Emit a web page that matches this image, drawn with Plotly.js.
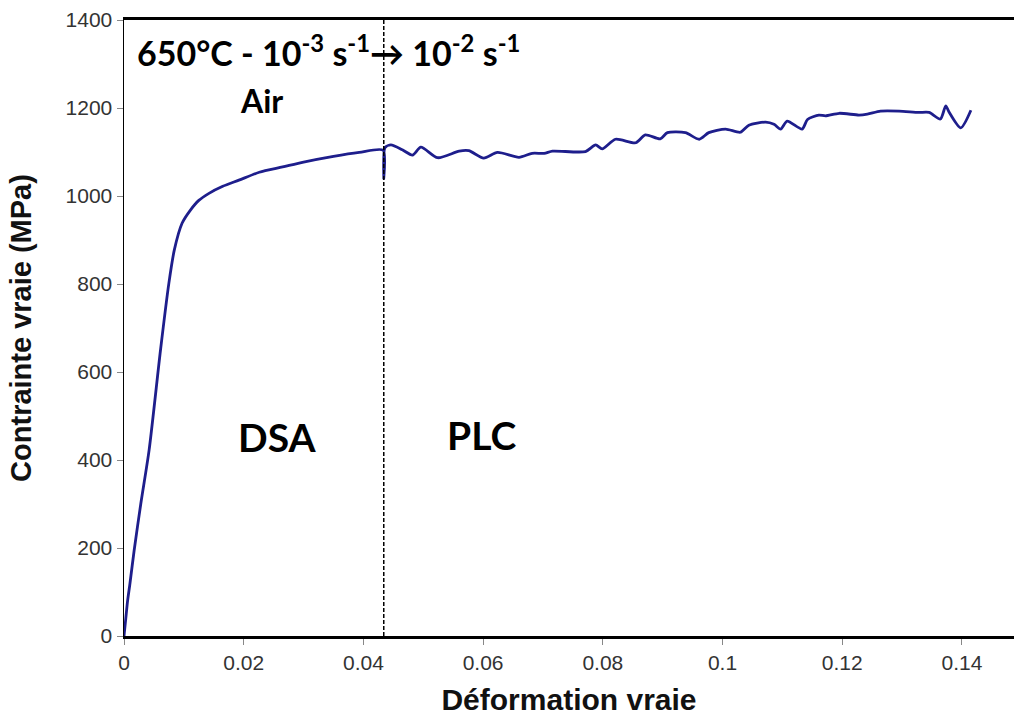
<!DOCTYPE html>
<html>
<head>
<meta charset="utf-8">
<script src="https://cdn.plot.ly/plotly-3.0.1.min.js"></script>
<style>html,body{margin:0;padding:0;background:#fff;}#chart{width:1014px;height:719px;}</style>
</head>
<body>
<div id="chart"></div>
<script>
// True strain (Déformation vraie)
const strain = [0, 0.0003, 0.0006, 0.0010, 0.0017, 0.0028, 0.0042, 0.0061, 0.0075, 0.0084, 0.0097, 0.0111, 0.0125, 0.0142, 0.0165, 0.0192, 0.0226, 0.0265, 0.0300, 0.0350, 0.0393, 0.0433, 0.0434, 0.0436, 0.0446, 0.0465, 0.0482, 0.0496, 0.0524, 0.0560, 0.0576, 0.0601, 0.0624, 0.0660, 0.0682, 0.0702, 0.0716, 0.0771, 0.0788, 0.0799, 0.0821, 0.0855, 0.0871, 0.0896, 0.0908, 0.0938, 0.0961, 0.0977, 0.1005, 0.1030, 0.1044, 0.1072, 0.1086, 0.1097, 0.1108, 0.1133, 0.1142, 0.1161, 0.1172, 0.1195, 0.1228, 0.1242, 0.1264, 0.1295, 0.1328, 0.1345, 0.1364, 0.1373, 0.1378, 0.1398, 0.1415];
// True stress (Contrainte vraie, MPa)
const stress = [0, 40, 80, 120, 195, 300, 423, 650, 802, 877, 938, 968, 990, 1006, 1022, 1036, 1054, 1066, 1077, 1090, 1099, 1104, 1040, 1110, 1116, 1105, 1093, 1111, 1087, 1102, 1103, 1086, 1099, 1088, 1097, 1097, 1102, 1101, 1116, 1107, 1129, 1121, 1139, 1130, 1144, 1144, 1129, 1144, 1152, 1145, 1161, 1168, 1163, 1152, 1170, 1152, 1174, 1184, 1182, 1188, 1184, 1186, 1193, 1193, 1190, 1190, 1175, 1205, 1192, 1155, 1195];
// Strain-rate change position
const rateChange = [0.0434];
const xTicks = [0, 0.02, 0.04, 0.06, 0.08, 0.1, 0.12, 0.14];
const xTickText = ['0', '0.02', '0.04', '0.06', '0.08', '0.1', '0.12', '0.14'];
const yTicks = [0, 200, 400, 600, 800, 1000, 1200, 1400];

const annFont = {family: 'Lato, "Open Sans", sans-serif', color: '#000'};
const axFont = '"Liberation Sans", Arial, sans-serif';

const data = [{
  x: strain, y: stress, type: 'scatter', mode: 'lines',
  line: {color: '#1e1e8c', width: 2.8, shape: 'spline', smoothing: 0.7}, hoverinfo: 'skip', showlegend: false
}];

const layout = {
  width: 1014, height: 719,
  margin: {l: 124, r: 0, t: 20, b: 83},
  paper_bgcolor: '#fff', plot_bgcolor: '#fff',
  xaxis: {
    range: [0, 0.1487], tickvals: xTicks, ticktext: xTickText,
    showgrid: false, zeroline: false, showline: true, linecolor: '#000', linewidth: 3, mirror: true,
    ticks: 'outside', ticklen: 6, tickcolor: '#888', tickwidth: 1,
    tickfont: {family: axFont, size: 21, color: '#333'},
    title: {text: '<b>Déformation vraie</b>', font: {family: axFont, size: 30, color: '#111'}, standoff: 16}
  },
  yaxis: {
    range: [0, 1400], tickvals: yTicks,
    showgrid: false, zeroline: false, showline: true, linecolor: '#000', linewidth: 1.5,
    ticks: 'outside', ticklen: 6, tickcolor: '#888', tickwidth: 1,
    tickfont: {family: axFont, size: 21, color: '#333'},
    title: {text: '<b>Contrainte vraie (MPa)</b>', font: {family: axFont, size: 29, color: '#111'}, standoff: 25}
  },
  shapes: [{
    type: 'line', xref: 'x', yref: 'y', x0: rateChange[0], x1: rateChange[0], y0: 0, y1: 1400,
    line: {color: '#000', width: 1.5, dash: '4px,2px'}
  }],
  annotations: [
    {xref: 'x', yref: 'y', x: 0.0018, y: 1330, xanchor: 'left', yanchor: 'middle', showarrow: false,
     text: '<b>650°C - 10<sup>-3</sup> s<sup>-1</sup>→ 10<sup>-2</sup> s<sup>-1</sup></b>', font: Object.assign({size: 34}, annFont)},
    {xref: 'x', yref: 'y', x: 0.0229, y: 1218, xanchor: 'center', yanchor: 'middle', showarrow: false,
     text: '<b>Air</b>', font: Object.assign({size: 32}, annFont)},
    {xref: 'x', yref: 'y', x: 0.0256, y: 452, xanchor: 'center', yanchor: 'middle', showarrow: false,
     text: '<b>DSA</b>', font: Object.assign({size: 39}, annFont)},
    {xref: 'x', yref: 'y', x: 0.0598, y: 457, xanchor: 'center', yanchor: 'middle', showarrow: false,
     text: '<b>PLC</b>', font: Object.assign({size: 39}, annFont)}
  ]
};

Plotly.newPlot('chart', data, layout, {staticPlot: true, displayModeBar: false});
</script>
</body>
</html>
